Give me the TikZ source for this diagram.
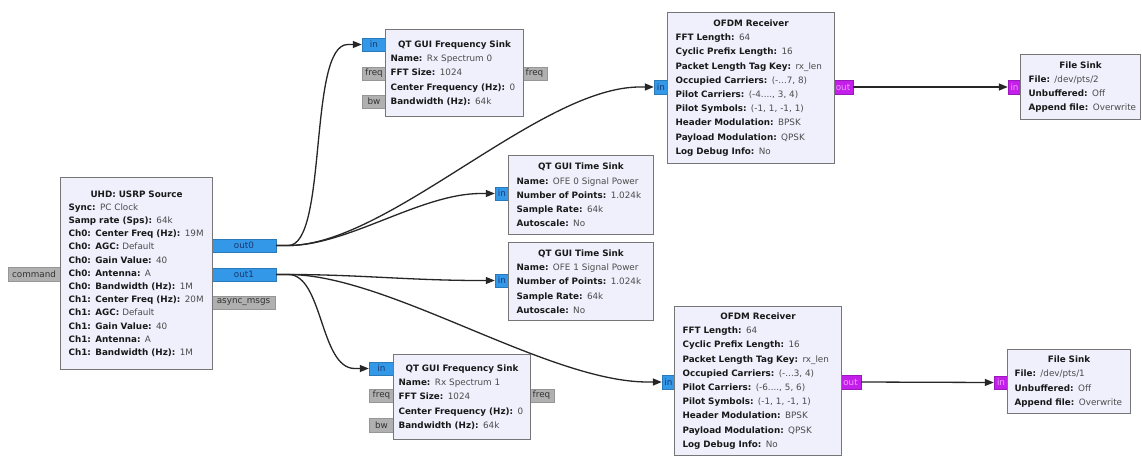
\documentclass[tikz,border=0pt]{standalone}
\usepackage{fontspec}
\setmainfont{DejaVu Sans}
\usetikzlibrary{arrows.meta}
\definecolor{blkfill}{RGB}{240,240,253}
\definecolor{blkdraw}{RGB}{118,118,118}
\definecolor{keyc}{RGB}{25,25,25}
\definecolor{valc}{RGB}{75,75,75}
\definecolor{blueport}{RGB}{52,152,232}
\definecolor{bluetext}{RGB}{25,55,110}
\definecolor{purpport}{RGB}{196,30,235}
\definecolor{purptext}{RGB}{235,160,250}
\definecolor{grayport}{RGB}{176,176,176}
\definecolor{graydraw}{RGB}{150,150,150}
\definecolor{graytext}{RGB}{50,50,50}
\newcommand\kv[2]{\mbox{\textbf{#1:} \textcolor{valc}{#2}}}
\newcommand\blktitle[1]{\makebox[\linewidth]{\textbf{#1}}}
\newcommand\port[7]{\node[#6, minimum width={#4-#2}, minimum height={#5-#3}] (#1) at ({(#2+#4)/2},{(#3+#5)/2}) {#7};}
\tikzset{
  blk/.style={draw=blkdraw, fill=blkfill, line width=1.1pt, rectangle, anchor=north west,
    align=left, inner ysep=0pt, text=keyc, font=\fontsize{8.8}{14.2}\selectfont},
  portbase/.style={rectangle, inner sep=0pt, font=\fontsize{8.8}{10}\selectfont},
  bport/.style={portbase, fill=blueport, draw=blueport!80!black, line width=0.4pt, text=bluetext},
  pport/.style={portbase, fill=purpport, draw=purpport!80!black, line width=0.4pt, text=purptext},
  gport/.style={portbase, fill=grayport, draw=graydraw, line width=0.8pt, text=graytext},
  conn/.style={draw=black!85, line width=1.3pt, -{Triangle[length=9pt,width=7pt]}}
}
\begin{document}
\begin{tikzpicture}[x=1pt,y=-1pt]
\useasboundingbox[fill=white] (0,0) rectangle (1142,455);

% ---------- ports (drawn first) ----------
\port{cmd}{8}{267}{60}{281}{gport}{command}
\port{out0}{212}{239}{276}{252}{bport}{out0}
\port{out1}{212}{268}{276}{281}{bport}{out1}
\port{async}{212}{296}{275}{309}{gport}{async\_msgs}

\port{fs0in}{362}{38}{386}{51}{bport}{in}
\port{fs0freqL}{362}{67}{386}{80}{gport}{freq}
\port{fs0bw}{362}{95}{386}{108}{gport}{bw}
\port{fs0freqR}{522}{67}{547}{80}{gport}{freq}

\port{of0in}{654}{80}{668}{94}{bport}{in}
\port{of0out}{833}{80}{853}{94}{pport}{out}
\port{fi0in}{1008}{80}{1021}{94}{pport}{in}

\port{ts0in}{495}{187}{509}{200}{bport}{in}
\port{ts1in}{495}{274}{509}{287}{bport}{in}

\port{fs1in}{369}{362}{394}{375}{bport}{in}
\port{fs1freqL}{369}{389}{394}{402}{gport}{freq}
\port{fs1bw}{369}{418}{394}{432}{gport}{bw}
\port{fs1freqR}{529}{389}{554}{402}{gport}{freq}

\port{of1in}{662}{375}{675}{389}{bport}{in}
\port{of1out}{840}{375}{861}{389}{pport}{out}
\port{fi1in}{994}{376}{1008}{389}{pport}{in}

% ---------- blocks ----------
\node[blk, inner xsep=8pt, text width=136pt, minimum height=192pt, font=\fontsize{8.8}{13.2}\selectfont] (usrp) at (60,177) {%
\blktitle{UHD: USRP Source}\\
\kv{Sync}{PC Clock}\\
\kv{Samp rate (Sps)}{64k}\\
\kv{Ch0: Center Freq (Hz)}{19M}\\
\kv{Ch0: AGC}{Default}\\
\kv{Ch0: Gain Value}{40}\\
\kv{Ch0: Antenna}{A}\\
\kv{Ch0: Bandwidth (Hz)}{1M}\\
\kv{Ch1: Center Freq (Hz)}{20M}\\
\kv{Ch1: AGC}{Default}\\
\kv{Ch1: Gain Value}{40}\\
\kv{Ch1: Antenna}{A}\\
\kv{Ch1: Bandwidth (Hz)}{1M}};

\node[blk, inner xsep=5pt, text width=128pt, minimum height=87pt] (fs0) at (385,29) {%
\blktitle{QT GUI Frequency Sink}\\
\kv{Name}{Rx Spectrum 0}\\
\kv{FFT Size}{1024}\\
\kv{Center Frequency (Hz)}{0}\\
\kv{Bandwidth (Hz)}{64k}};

\node[blk, inner xsep=8pt, text width=151pt, minimum height=151pt] (of0) at (667,12) {%
\blktitle{OFDM Receiver}\\
\kv{FFT Length}{64}\\
\kv{Cyclic Prefix Length}{16}\\
\kv{Packet Length Tag Key}{rx\_len}\\
\kv{Occupied Carriers}{(-...7, 8)}\\
\kv{Pilot Carriers}{(-4...., 3, 4)}\\
\kv{Pilot Symbols}{(-1, 1, -1, 1)}\\
\kv{Header Modulation}{BPSK}\\
\kv{Payload Modulation}{QPSK}\\
\kv{Log Debug Info}{No}};

\node[blk, inner xsep=8pt, text width=104pt, minimum height=65pt] (fi0) at (1020,54) {%
\blktitle{File Sink}\\
\kv{File}{/dev/pts/2}\\
\kv{Unbuffered}{Off}\\
\kv{Append file}{Overwrite}};

\node[blk, inner xsep=8pt, text width=129pt, minimum height=79pt] (ts0) at (508,155) {%
\blktitle{QT GUI Time Sink}\\
\kv{Name}{OFE 0 Signal Power}\\
\kv{Number of Points}{1.024k}\\
\kv{Sample Rate}{64k}\\
\kv{Autoscale}{No}};

\node[blk, inner xsep=8pt, text width=129pt, minimum height=78pt] (ts1) at (508,242) {%
\blktitle{QT GUI Time Sink}\\
\kv{Name}{OFE 1 Signal Power}\\
\kv{Number of Points}{1.024k}\\
\kv{Sample Rate}{64k}\\
\kv{Autoscale}{No}};

\node[blk, inner xsep=5pt, text width=127pt, minimum height=85pt] (fs1) at (393,354) {%
\blktitle{QT GUI Frequency Sink}\\
\kv{Name}{Rx Spectrum 1}\\
\kv{FFT Size}{1024}\\
\kv{Center Frequency (Hz)}{0}\\
\kv{Bandwidth (Hz)}{64k}};

\node[blk, inner xsep=8pt, text width=151pt, minimum height=149pt] (of1) at (674,306) {%
\blktitle{OFDM Receiver}\\
\kv{FFT Length}{64}\\
\kv{Cyclic Prefix Length}{16}\\
\kv{Packet Length Tag Key}{rx\_len}\\
\kv{Occupied Carriers}{(-...3, 4)}\\
\kv{Pilot Carriers}{(-6...., 5, 6)}\\
\kv{Pilot Symbols}{(-1, 1, -1, 1)}\\
\kv{Header Modulation}{BPSK}\\
\kv{Payload Modulation}{QPSK}\\
\kv{Log Debug Info}{No}};

\node[blk, inner xsep=7pt, text width=109pt, minimum height=64pt] (fi1) at (1007,349) {%
\blktitle{File Sink}\\
\kv{File}{/dev/pts/1}\\
\kv{Unbuffered}{Off}\\
\kv{Append file}{Overwrite}};

% ---------- connectors ----------
\draw[conn] (out0.east) -- ++(12,0) .. controls +(40,0) and +(-40,0) .. ([xshift=-14pt]fs0in.west) -- (fs0in.west);
\draw[conn] (out0.east) -- ++(12,0) .. controls +(100,0) and +(-100,0) .. ([xshift=-14pt]of0in.west) -- (of0in.west);
\draw[conn] (out0.east) -- ++(12,0) .. controls +(60,0) and +(-60,0) .. ([xshift=-14pt]ts0in.west) -- (ts0in.west);
\draw[conn] (out1.east) -- ++(12,0) .. controls +(70,0) and +(-70,0) .. ([xshift=-14pt]ts1in.west) -- (ts1in.west);
\draw[conn] (out1.east) -- ++(12,0) .. controls +(35,0) and +(-35,0) .. ([xshift=-14pt]fs1in.west) -- (fs1in.west);
\draw[conn] (out1.east) -- ++(12,0) .. controls +(100,0) and +(-100,0) .. ([xshift=-14pt]of1in.west) -- (of1in.west);
\draw[conn] (of0out.east) -- (fi0in.west);
\draw[conn] (of1out.east) -- (fi1in.west);
\end{tikzpicture}
\end{document}
